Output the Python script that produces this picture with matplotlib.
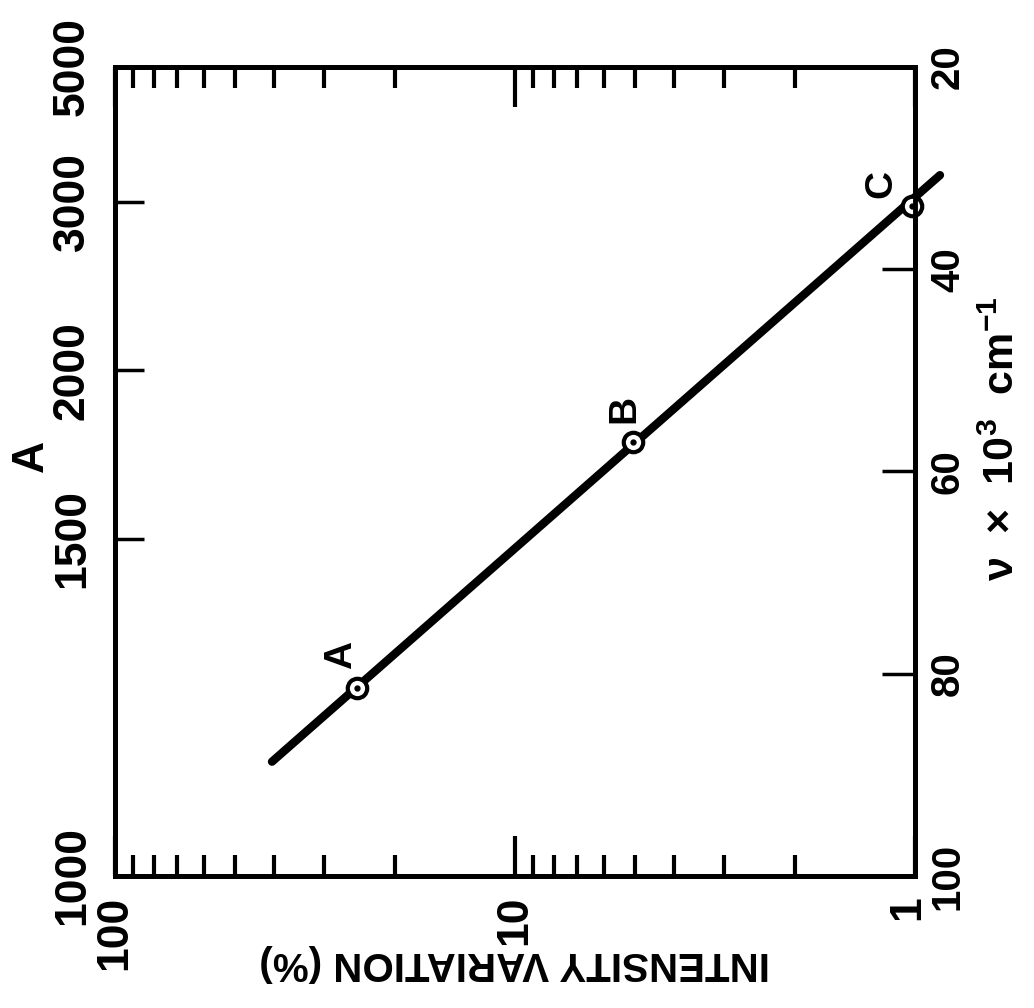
import matplotlib
matplotlib.use("Agg")
import matplotlib.pyplot as plt
from matplotlib.transforms import ScaledTranslation
from matplotlib.ticker import FixedLocator, FixedFormatter, LogLocator, NullFormatter

plt.rcParams["font.family"] = ["Liberation Sans", "DejaVu Sans"]
plt.rcParams["font.weight"] = "bold"
plt.rcParams["mathtext.fontset"] = "custom"
plt.rcParams["mathtext.rm"] = "Liberation Sans:bold"
plt.rcParams["mathtext.bf"] = "Liberation Sans:bold"
plt.rcParams["mathtext.default"] = "bf"

# measured points: intensity variation (%) against wavenumber (x 10^3 cm^-1)
point_names = ["A", "B", "C"]
point_intensity = [24.8, 5.07, 1.02]
point_nu = [81.4, 57.1, 33.8]

# fitted straight line (ends)
line_intensity = [40.5, 0.866]
line_nu = [88.7, 30.7]

wavelength_ticks = [1000, 1500, 2000, 3000, 5000]
nu_ticks = [20, 40, 60, 80, 100]
intensity_ticks = [100, 10, 1]

fig = plt.figure(figsize=(10.34, 10.08), dpi=100)
ax = fig.add_axes([0.1112, 0.131, 0.7737, 0.8026])

ax.set_xscale("log")
ax.set_xlim(100, 1)
ax.set_ylim(100, 20)

ax.plot(line_intensity, line_nu, color="black", lw=6, solid_capstyle="round",
        clip_on=False, zorder=3)
ax.plot(point_intensity, point_nu, ls="none", marker="o", ms=14, mfc="white",
        mec="black", mew=3, zorder=4, clip_on=False)
ax.plot(point_intensity, point_nu, ls="none", marker="o", ms=3.5, color="black",
        zorder=5, clip_on=False)

label_offsets = [(-12, 24), (-6, 24), (-22, 16)]
for name, xi, yi, off in zip(point_names, point_intensity, point_nu, label_offsets):
    ax.annotate(name, (xi, yi), xytext=off, textcoords="offset points",
                rotation=90, ha="center", va="center", fontsize=28,
                fontweight="bold")

for side in ax.spines.values():
    side.set_linewidth(3.5)

# intensity axis (log, both bottom and top)
ax.xaxis.set_major_locator(FixedLocator(intensity_ticks))
ax.xaxis.set_major_formatter(FixedFormatter([str(v) for v in intensity_ticks]))
ax.xaxis.set_minor_locator(LogLocator(base=10, subs=range(2, 10)))
ax.xaxis.set_minor_formatter(NullFormatter())
ax.tick_params(axis="x", which="major", direction="in", length=29, width=3,
               top=True, bottom=True, labelrotation=90, labelsize=32, pad=14)
ax.tick_params(axis="x", which="minor", direction="in", length=15, width=3,
               top=True, bottom=True)

# wavelength labels on the left, placed on the wavenumber scale
ax.yaxis.set_major_locator(FixedLocator([1e5 / w for w in wavelength_ticks]))
ax.yaxis.set_major_formatter(FixedFormatter([str(w) for w in wavelength_ticks]))
ax.tick_params(axis="y", which="major", direction="in", length=21, width=2.5,
               labelrotation=90, labelsize=32, pad=16)

ax2 = ax.twinx()
ax2.set_ylim(100, 20)
ax2.yaxis.set_major_locator(FixedLocator(nu_ticks))
ax2.yaxis.set_major_formatter(FixedFormatter([str(v) for v in nu_ticks]))
ax2.tick_params(axis="y", which="major", direction="in", length=24, width=2.5,
                labelrotation=90, labelsize=29, pad=10)
for side in ax2.spines.values():
    side.set_linewidth(3.5)

for lbl in ax.get_yticklabels() + ax2.get_yticklabels():
    lbl.set_va("center")

# keep the "1" clear of the "100" on the right-hand scale
last = ax.get_xticklabels()[-1]
last.set_transform(last.get_transform() + ScaledTranslation(-5 / 72, 0, fig.dpi_scale_trans))

fig.text(0.03, 0.548, "A", rotation=90, ha="center", va="center",
         fontsize=32, fontweight="bold")
fig.text(0.97, 0.565, r"$\nu$  ×  10$^{3}$  cm$^{-1}$", rotation=90,
         ha="center", va="center", fontsize=31, fontweight="bold")
fig.text(0.498, 0.045, "INTENSITY VARIATION (%)", rotation=180,
         ha="center", va="center", fontsize=29, fontweight="bold")

fig.savefig("out.png", dpi=100, facecolor="white")
